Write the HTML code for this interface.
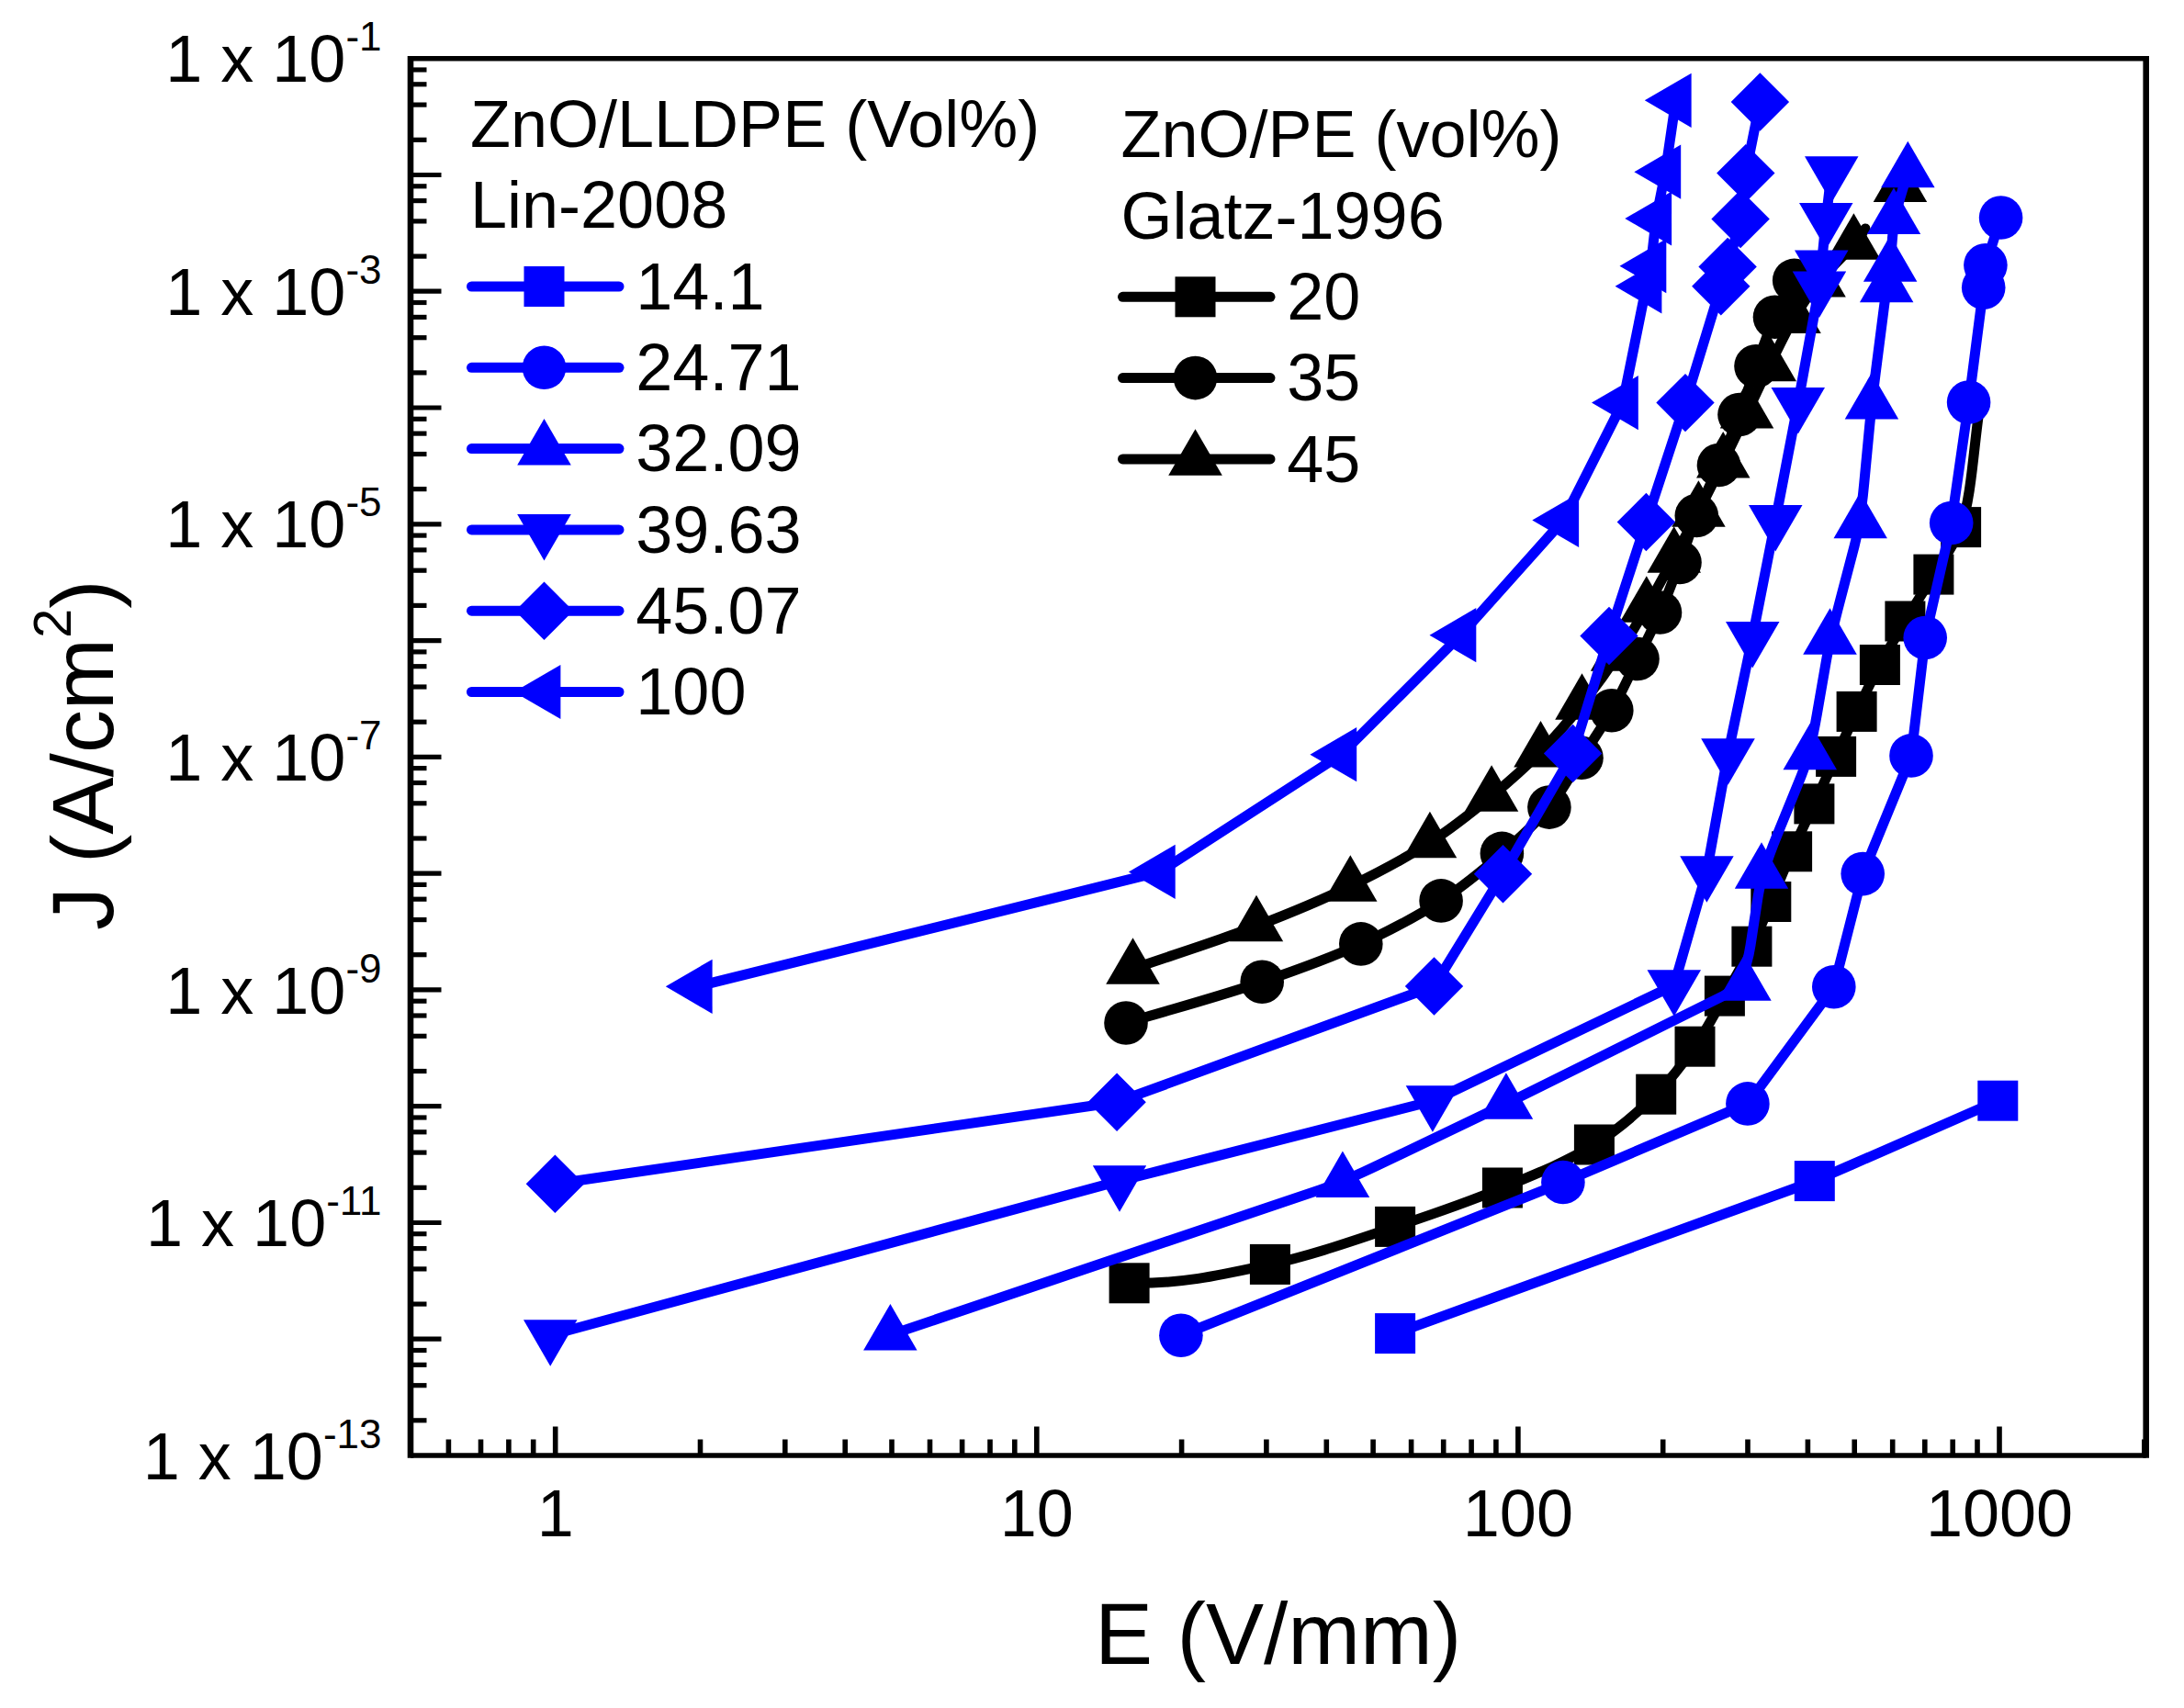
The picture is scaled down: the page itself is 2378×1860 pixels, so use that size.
<!DOCTYPE html>
<html><head><meta charset="utf-8"><title>J-E characteristics</title>
<style>
html,body{margin:0;padding:0;background:#fff;}
svg{display:block;}
text{fill:#000;}
</style></head>
<body>
<svg width="2378" height="1860" viewBox="0 0 2378 1860">
<rect width="2378" height="1860" fill="#fff"/>
<g id="series">
<path d="M1229.6,1397.3 C1289.6,1398.3 1333.7,1387.5 1382.9,1376.9 C1430.1,1366.7 1475.6,1350.3 1519.1,1335.9 C1559.7,1322.4 1598.8,1308.9 1635.9,1293.5 C1670.9,1279 1706.8,1264.8 1735.9,1246.5 C1761.7,1230.3 1784.2,1210.7 1803.2,1191.7 C1819.9,1175 1832.9,1157.8 1845.5,1139.7 C1857.8,1122 1867.5,1102.9 1877.9,1084.6 C1888.1,1066.6 1898.8,1048.4 1907.4,1030.7 C1915.4,1014.2 1921.2,998.7 1928.3,982 C1935.8,964.3 1943.2,945.2 1951.1,927.3 C1958.9,909.7 1967.4,892.7 1975.4,875.4 C1983.4,858.2 1991.3,840.9 1999.1,823.9 C2006.7,807.4 2013.7,791.3 2021.6,774.9 C2029.7,758 2038,740.5 2046.9,724 C2055.6,707.8 2064.9,692.6 2074.4,676.5 C2084.3,659.8 2095.3,642.7 2105.4,625.6 C2115.5,608.5 2127.3,596.2 2135.1,574.1 C2146.9,540.7 2149,484.7 2156,440" fill="none" stroke="#000" stroke-width="11" stroke-linejoin="round" stroke-linecap="round"/>
<rect x="1207.6" y="1375.3" width="44" height="44" fill="#000"/>
<rect x="1360.9" y="1354.9" width="44" height="44" fill="#000"/>
<rect x="1497.1" y="1313.9" width="44" height="44" fill="#000"/>
<rect x="1613.9" y="1271.5" width="44" height="44" fill="#000"/>
<rect x="1713.9" y="1224.5" width="44" height="44" fill="#000"/>
<rect x="1781.2" y="1169.7" width="44" height="44" fill="#000"/>
<rect x="1823.5" y="1117.7" width="44" height="44" fill="#000"/>
<rect x="1855.9" y="1062.6" width="44" height="44" fill="#000"/>
<rect x="1885.4" y="1008.7" width="44" height="44" fill="#000"/>
<rect x="1906.3" y="960" width="44" height="44" fill="#000"/>
<rect x="1929.1" y="905.3" width="44" height="44" fill="#000"/>
<rect x="1953.4" y="853.4" width="44" height="44" fill="#000"/>
<rect x="1977.1" y="801.9" width="44" height="44" fill="#000"/>
<rect x="1999.6" y="752.9" width="44" height="44" fill="#000"/>
<rect x="2024.9" y="702" width="44" height="44" fill="#000"/>
<rect x="2052.4" y="654.5" width="44" height="44" fill="#000"/>
<rect x="2083.4" y="603.6" width="44" height="44" fill="#000"/>
<rect x="2113.1" y="552.1" width="44" height="44" fill="#000"/>
<path d="M1226,1114 C1275.4,1099.1 1329,1084.7 1374.2,1069.2 C1413.2,1055.8 1448.3,1043.3 1481.8,1027.9 C1512.9,1013.6 1542.6,998.1 1569.1,980.9 C1593.4,965.1 1615.1,947.1 1635.4,929.4 C1654.2,913.1 1672.2,897 1686.9,879.1 C1700.8,862.2 1710.5,843 1722,825.2 C1733.2,807.9 1744.7,791.5 1754.8,773.7 C1765.1,755.6 1774,735.8 1783,717.5 C1791.5,700.2 1799.9,684.3 1807.5,667 C1815.3,649.3 1822.3,630.4 1829,612.5 C1835.5,595.3 1840.4,578.7 1847.3,561.5 C1854.5,543.4 1863.7,524.9 1871.5,506.5 C1879.3,488.2 1887.2,469.7 1894,451.5 C1900.6,433.8 1905.6,416.4 1912,398.8 C1918.5,381 1925.1,361.6 1932.5,345.3 C1939.1,330.8 1946.6,318.7 1953.7,305.4" fill="none" stroke="#000" stroke-width="11" stroke-linejoin="round" stroke-linecap="round"/>
<circle cx="1226" cy="1114" r="23.8" fill="#000"/>
<circle cx="1374.2" cy="1069.2" r="23.8" fill="#000"/>
<circle cx="1481.8" cy="1027.9" r="23.8" fill="#000"/>
<circle cx="1569.1" cy="980.9" r="23.8" fill="#000"/>
<circle cx="1635.4" cy="929.4" r="23.8" fill="#000"/>
<circle cx="1686.9" cy="879.1" r="23.8" fill="#000"/>
<circle cx="1722" cy="825.2" r="23.8" fill="#000"/>
<circle cx="1754.8" cy="773.7" r="23.8" fill="#000"/>
<circle cx="1783" cy="717.5" r="23.8" fill="#000"/>
<circle cx="1807.5" cy="667" r="23.8" fill="#000"/>
<circle cx="1829" cy="612.5" r="23.8" fill="#000"/>
<circle cx="1847.3" cy="561.5" r="23.8" fill="#000"/>
<circle cx="1871.5" cy="506.5" r="23.8" fill="#000"/>
<circle cx="1894" cy="451.5" r="23.8" fill="#000"/>
<circle cx="1912" cy="398.8" r="23.8" fill="#000"/>
<circle cx="1932.5" cy="345.3" r="23.8" fill="#000"/>
<circle cx="1953.7" cy="305.4" r="23.8" fill="#000"/>
<path d="M1233.5,1055 C1278.3,1039.5 1326.5,1024.5 1368,1008.5 C1404.7,994.4 1438,980.7 1470.3,965 C1500.8,950.2 1530.4,934.6 1556.9,917.5 C1581.3,901.7 1603.3,884.1 1624.1,867 C1643.3,851.2 1660.9,835.6 1677.5,818.7 C1693.7,802.2 1708.4,784.7 1722.5,767 C1736.2,749.7 1749.1,731.9 1761,714 C1772.5,696.6 1782.5,678.8 1792.8,661 C1803.1,643.2 1813.1,624.7 1822.7,607 C1831.9,590 1840.6,574 1849.4,557 C1858.4,539.5 1867.4,521.5 1876.2,503.6 C1885,485.7 1893.6,467.4 1902.1,449.7 C1910.4,432.4 1918.2,415.5 1926.7,398.4 C1935.3,381 1944,362 1953.5,346.1 C1962,331.8 1970.2,319.7 1980.5,306.8 C1991.6,292.9 2009.4,276.8 2018.4,265.9 C2024,259.2 2026.8,254.6 2031,249" fill="none" stroke="#000" stroke-width="11" stroke-linejoin="round" stroke-linecap="round"/>
<polygon points="1233.5,1021.3 1262.8,1071.8 1204.2,1071.8" fill="#000"/>
<polygon points="1368,974.8 1397.2,1025.3 1338.8,1025.3" fill="#000"/>
<polygon points="1470.3,931.3 1499.5,981.8 1441,981.8" fill="#000"/>
<polygon points="1556.9,883.8 1586.2,934.3 1527.7,934.3" fill="#000"/>
<polygon points="1624.1,833.3 1653.3,883.8 1594.8,883.8" fill="#000"/>
<polygon points="1677.5,785 1706.8,835.5 1648.2,835.5" fill="#000"/>
<polygon points="1722.5,733.3 1751.8,783.8 1693.2,783.8" fill="#000"/>
<polygon points="1761,680.3 1790.2,730.8 1731.8,730.8" fill="#000"/>
<polygon points="1792.8,627.3 1822,677.8 1763.5,677.8" fill="#000"/>
<polygon points="1822.7,573.3 1852,623.8 1793.5,623.8" fill="#000"/>
<polygon points="1849.4,523.3 1878.7,573.8 1820.2,573.8" fill="#000"/>
<polygon points="1876.2,469.9 1905.5,520.4 1847,520.4" fill="#000"/>
<polygon points="1902.1,416 1931.3,466.5 1872.8,466.5" fill="#000"/>
<polygon points="1926.7,364.7 1956,415.2 1897.5,415.2" fill="#000"/>
<polygon points="1953.5,312.4 1982.8,362.9 1924.2,362.9" fill="#000"/>
<polygon points="1980.5,273.1 2009.8,323.6 1951.2,323.6" fill="#000"/>
<polygon points="2018.4,232.2 2047.7,282.7 1989.2,282.7" fill="#000"/>
<polygon points="2068.9,169.6 2098.2,220.1 2039.7,220.1" fill="#000"/>
<path d="M1519.1,1452.1 L1951.4,1295 Q1975.8,1286.1 2016.1,1268.4 L2175.3,1198.7" fill="none" stroke="#0000ff" stroke-width="11" stroke-linejoin="round" stroke-linecap="round"/>
<rect x="1497.1" y="1430.1" width="44" height="44" fill="#0000ff"/>
<rect x="1953.8" y="1264.1" width="44" height="44" fill="#0000ff"/>
<rect x="2153.3" y="1176.7" width="44" height="44" fill="#0000ff"/>
<path d="M1285.9,1454.2 L1701.9,1287.5 L1902.9,1201.9 L1996.8,1074.7 L2028.2,951.6 L2081,822.9 L2096.2,694.5 L2124.7,569.5 L2143.6,438 L2159.7,313.2 L2161.9,288.8 L2178.6,237" fill="none" stroke="#0000ff" stroke-width="11" stroke-linejoin="round" stroke-linecap="round"/>
<circle cx="1285.9" cy="1454.2" r="23.8" fill="#0000ff"/>
<circle cx="1701.9" cy="1287.5" r="23.8" fill="#0000ff"/>
<circle cx="1902.9" cy="1201.9" r="23.8" fill="#0000ff"/>
<circle cx="1996.8" cy="1074.7" r="23.8" fill="#0000ff"/>
<circle cx="2028.2" cy="951.6" r="23.8" fill="#0000ff"/>
<circle cx="2081" cy="822.9" r="23.8" fill="#0000ff"/>
<circle cx="2096.2" cy="694.5" r="23.8" fill="#0000ff"/>
<circle cx="2124.7" cy="569.5" r="23.8" fill="#0000ff"/>
<circle cx="2143.6" cy="438" r="23.8" fill="#0000ff"/>
<circle cx="2159.7" cy="313.2" r="23.8" fill="#0000ff"/>
<circle cx="2161.9" cy="288.8" r="23.8" fill="#0000ff"/>
<circle cx="2178.6" cy="237" r="23.8" fill="#0000ff"/>
<path d="M969.4,1453.6 L1437.3,1295.6 Q1461.9,1287.3 1501.6,1268.3 L1616.5,1213.2 Q1639.9,1202 1679.3,1182.4 L1876.1,1084.6 Q1899.4,1073 1906,1029.5 L1914.1,976.7 Q1918,951 1934.6,910.3 L1961,845.6 Q1970.8,821.5 1978.3,778.1 L1988.1,721.6 Q1992.5,696 2003.7,653.4 L2019.1,594.6 Q2025.7,569.5 2029.8,525.7 L2035.5,465.5 Q2037.9,439.6 2043.5,396 L2050.9,338.3 Q2054.2,312.5 2056,302.4 L2056.4,300.1 Q2058.2,290 2059.9,266.7 L2060.3,261.6 Q2062,238.3 2068.9,215.4 L2077.3,187.4" fill="none" stroke="#0000ff" stroke-width="11" stroke-linejoin="round" stroke-linecap="round"/>
<polygon points="969.4,1419.9 998.6,1470.4 940.1,1470.4" fill="#0000ff"/>
<polygon points="1461.9,1253.6 1491.2,1304.1 1432.7,1304.1" fill="#0000ff"/>
<polygon points="1639.9,1168.3 1669.2,1218.8 1610.7,1218.8" fill="#0000ff"/>
<polygon points="1899.4,1039.3 1928.7,1089.8 1870.2,1089.8" fill="#0000ff"/>
<polygon points="1918,917.3 1947.2,967.8 1888.8,967.8" fill="#0000ff"/>
<polygon points="1970.8,787.8 2000,838.3 1941.5,838.3" fill="#0000ff"/>
<polygon points="1992.5,662.3 2021.8,712.8 1963.2,712.8" fill="#0000ff"/>
<polygon points="2025.7,535.8 2054.9,586.3 1996.5,586.3" fill="#0000ff"/>
<polygon points="2037.9,405.9 2067.2,456.4 2008.7,456.4" fill="#0000ff"/>
<polygon points="2054.2,278.8 2083.4,329.3 2024.9,329.3" fill="#0000ff"/>
<polygon points="2058.2,256.3 2087.4,306.8 2028.9,306.8" fill="#0000ff"/>
<polygon points="2062,204.6 2091.2,255.1 2032.8,255.1" fill="#0000ff"/>
<polygon points="2077.3,153.7 2106.6,204.2 2048.1,204.2" fill="#0000ff"/>
<path d="M599.2,1454 L1219,1286 L1559.9,1199 L1822.8,1073 L1858.4,949 L1881.5,821 L1908.2,693.7 L1933.2,566.8 L1957.8,438.7 L1980.9,312.2 L1983.3,289.3 L1988.3,237.7 L1994.2,187.1" fill="none" stroke="#0000ff" stroke-width="11" stroke-linejoin="round" stroke-linecap="round"/>
<polygon points="599.2,1487.7 628.5,1437.2 570,1437.2" fill="#0000ff"/>
<polygon points="1219,1319.7 1248.2,1269.2 1189.8,1269.2" fill="#0000ff"/>
<polygon points="1559.9,1232.7 1589.2,1182.2 1530.7,1182.2" fill="#0000ff"/>
<polygon points="1822.8,1106.7 1852,1056.2 1793.5,1056.2" fill="#0000ff"/>
<polygon points="1858.4,982.7 1887.7,932.2 1829.2,932.2" fill="#0000ff"/>
<polygon points="1881.5,854.7 1910.8,804.2 1852.2,804.2" fill="#0000ff"/>
<polygon points="1908.2,727.4 1937.5,676.9 1879,676.9" fill="#0000ff"/>
<polygon points="1933.2,600.5 1962.5,550 1904,550" fill="#0000ff"/>
<polygon points="1957.8,472.4 1987,421.9 1928.5,421.9" fill="#0000ff"/>
<polygon points="1980.9,345.9 2010.2,295.4 1951.7,295.4" fill="#0000ff"/>
<polygon points="1983.3,323 2012.5,272.5 1954,272.5" fill="#0000ff"/>
<polygon points="1988.3,271.4 2017.5,220.9 1959,220.9" fill="#0000ff"/>
<polygon points="1994.2,220.8 2023.5,170.3 1965,170.3" fill="#0000ff"/>
<path d="M604.4,1289.2 L1216.1,1200.2 L1561.5,1074 L1636.5,951.7 L1712.6,820.5 L1752,692.5 L1792.4,568.5 L1835,438.6 L1873.8,311.8 L1881.1,290.5 L1895.1,238.5 L1900.8,188.6 L1916.4,111" fill="none" stroke="#0000ff" stroke-width="11" stroke-linejoin="round" stroke-linecap="round"/>
<polygon points="604.4,1257.5 636.1,1289.2 604.4,1320.9 572.7,1289.2" fill="#0000ff"/>
<polygon points="1216.1,1168.5 1247.8,1200.2 1216.1,1231.9 1184.4,1200.2" fill="#0000ff"/>
<polygon points="1561.5,1042.3 1593.2,1074 1561.5,1105.7 1529.8,1074" fill="#0000ff"/>
<polygon points="1636.5,920 1668.2,951.7 1636.5,983.4 1604.8,951.7" fill="#0000ff"/>
<polygon points="1712.6,788.8 1744.3,820.5 1712.6,852.2 1680.9,820.5" fill="#0000ff"/>
<polygon points="1752,660.8 1783.7,692.5 1752,724.2 1720.3,692.5" fill="#0000ff"/>
<polygon points="1792.4,536.8 1824.1,568.5 1792.4,600.2 1760.7,568.5" fill="#0000ff"/>
<polygon points="1835,406.9 1866.7,438.6 1835,470.3 1803.3,438.6" fill="#0000ff"/>
<polygon points="1873.8,280.1 1905.5,311.8 1873.8,343.5 1842.1,311.8" fill="#0000ff"/>
<polygon points="1881.1,258.8 1912.8,290.5 1881.1,322.2 1849.4,290.5" fill="#0000ff"/>
<polygon points="1895.1,206.8 1926.8,238.5 1895.1,270.2 1863.4,238.5" fill="#0000ff"/>
<polygon points="1900.8,156.9 1932.5,188.6 1900.8,220.3 1869.1,188.6" fill="#0000ff"/>
<polygon points="1916.4,79.3 1948.1,111 1916.4,142.7 1884.7,111" fill="#0000ff"/>
<path d="M758.7,1074.3 L1262.8,949.4 L1460.3,821.7 L1590.4,691.7 L1702.2,566.5 L1766.9,438.6 L1792.5,311.8 L1797.4,289.7 L1803.2,238 L1813.3,187.2 L1824.7,109.3" fill="none" stroke="#0000ff" stroke-width="11" stroke-linejoin="round" stroke-linecap="round"/>
<polygon points="724.8,1074.3 775.6,1044.7 775.6,1103.9" fill="#0000ff"/>
<polygon points="1228.9,949.4 1279.7,919.8 1279.7,979" fill="#0000ff"/>
<polygon points="1426.4,821.7 1477.2,792.1 1477.2,851.3" fill="#0000ff"/>
<polygon points="1556.5,691.7 1607.3,662.1 1607.3,721.3" fill="#0000ff"/>
<polygon points="1668.3,566.5 1719.1,536.9 1719.1,596.1" fill="#0000ff"/>
<polygon points="1733,438.6 1783.8,409 1783.8,468.2" fill="#0000ff"/>
<polygon points="1758.6,311.8 1809.4,282.2 1809.4,341.4" fill="#0000ff"/>
<polygon points="1763.5,289.7 1814.3,260.1 1814.3,319.3" fill="#0000ff"/>
<polygon points="1769.3,238 1820.1,208.4 1820.1,267.6" fill="#0000ff"/>
<polygon points="1779.4,187.2 1830.2,157.6 1830.2,216.8" fill="#0000ff"/>
<polygon points="1790.8,109.3 1841.6,79.7 1841.6,138.9" fill="#0000ff"/>
</g>
<g id="axes">
<line x1="447.0" y1="60.95" x2="447.0" y2="1587.75" stroke="#000" stroke-width="6.6"/>
<line x1="2336.7" y1="60.95" x2="2336.7" y2="1587.75" stroke="#000" stroke-width="6.6"/>
<line x1="447.0" y1="63.7" x2="2336.7" y2="63.7" stroke="#000" stroke-width="5.6"/>
<line x1="447.0" y1="1585.0" x2="2336.7" y2="1585.0" stroke="#000" stroke-width="5.6"/>
<line x1="447.0" y1="76" x2="464.5" y2="76" stroke="#000" stroke-width="5.2"/>
<line x1="447.0" y1="91.8" x2="464.5" y2="91.8" stroke="#000" stroke-width="5.2"/>
<line x1="447.0" y1="114.1" x2="464.5" y2="114.1" stroke="#000" stroke-width="5.2"/>
<line x1="447.0" y1="152.3" x2="464.5" y2="152.3" stroke="#000" stroke-width="5.2"/>
<line x1="447.0" y1="190.5" x2="480.5" y2="190.5" stroke="#000" stroke-width="5.2"/>
<line x1="447.0" y1="202.8" x2="464.5" y2="202.8" stroke="#000" stroke-width="5.2"/>
<line x1="447.0" y1="218.6" x2="464.5" y2="218.6" stroke="#000" stroke-width="5.2"/>
<line x1="447.0" y1="240.9" x2="464.5" y2="240.9" stroke="#000" stroke-width="5.2"/>
<line x1="447.0" y1="279.1" x2="464.5" y2="279.1" stroke="#000" stroke-width="5.2"/>
<line x1="447.0" y1="317.2" x2="480.5" y2="317.2" stroke="#000" stroke-width="5.2"/>
<line x1="447.0" y1="329.5" x2="464.5" y2="329.5" stroke="#000" stroke-width="5.2"/>
<line x1="447.0" y1="345.4" x2="464.5" y2="345.4" stroke="#000" stroke-width="5.2"/>
<line x1="447.0" y1="367.7" x2="464.5" y2="367.7" stroke="#000" stroke-width="5.2"/>
<line x1="447.0" y1="405.9" x2="464.5" y2="405.9" stroke="#000" stroke-width="5.2"/>
<line x1="447.0" y1="444" x2="480.5" y2="444" stroke="#000" stroke-width="5.2"/>
<line x1="447.0" y1="456.3" x2="464.5" y2="456.3" stroke="#000" stroke-width="5.2"/>
<line x1="447.0" y1="472.1" x2="464.5" y2="472.1" stroke="#000" stroke-width="5.2"/>
<line x1="447.0" y1="494.5" x2="464.5" y2="494.5" stroke="#000" stroke-width="5.2"/>
<line x1="447.0" y1="532.6" x2="464.5" y2="532.6" stroke="#000" stroke-width="5.2"/>
<line x1="447.0" y1="570.8" x2="480.5" y2="570.8" stroke="#000" stroke-width="5.2"/>
<line x1="447.0" y1="583.1" x2="464.5" y2="583.1" stroke="#000" stroke-width="5.2"/>
<line x1="447.0" y1="598.9" x2="464.5" y2="598.9" stroke="#000" stroke-width="5.2"/>
<line x1="447.0" y1="621.2" x2="464.5" y2="621.2" stroke="#000" stroke-width="5.2"/>
<line x1="447.0" y1="659.4" x2="464.5" y2="659.4" stroke="#000" stroke-width="5.2"/>
<line x1="447.0" y1="697.6" x2="480.5" y2="697.6" stroke="#000" stroke-width="5.2"/>
<line x1="447.0" y1="709.9" x2="464.5" y2="709.9" stroke="#000" stroke-width="5.2"/>
<line x1="447.0" y1="725.7" x2="464.5" y2="725.7" stroke="#000" stroke-width="5.2"/>
<line x1="447.0" y1="748" x2="464.5" y2="748" stroke="#000" stroke-width="5.2"/>
<line x1="447.0" y1="786.2" x2="464.5" y2="786.2" stroke="#000" stroke-width="5.2"/>
<line x1="447.0" y1="824.4" x2="480.5" y2="824.4" stroke="#000" stroke-width="5.2"/>
<line x1="447.0" y1="836.6" x2="464.5" y2="836.6" stroke="#000" stroke-width="5.2"/>
<line x1="447.0" y1="852.5" x2="464.5" y2="852.5" stroke="#000" stroke-width="5.2"/>
<line x1="447.0" y1="874.8" x2="464.5" y2="874.8" stroke="#000" stroke-width="5.2"/>
<line x1="447.0" y1="913" x2="464.5" y2="913" stroke="#000" stroke-width="5.2"/>
<line x1="447.0" y1="951.1" x2="480.5" y2="951.1" stroke="#000" stroke-width="5.2"/>
<line x1="447.0" y1="963.4" x2="464.5" y2="963.4" stroke="#000" stroke-width="5.2"/>
<line x1="447.0" y1="979.2" x2="464.5" y2="979.2" stroke="#000" stroke-width="5.2"/>
<line x1="447.0" y1="1001.6" x2="464.5" y2="1001.6" stroke="#000" stroke-width="5.2"/>
<line x1="447.0" y1="1039.7" x2="464.5" y2="1039.7" stroke="#000" stroke-width="5.2"/>
<line x1="447.0" y1="1077.9" x2="480.5" y2="1077.9" stroke="#000" stroke-width="5.2"/>
<line x1="447.0" y1="1090.2" x2="464.5" y2="1090.2" stroke="#000" stroke-width="5.2"/>
<line x1="447.0" y1="1106" x2="464.5" y2="1106" stroke="#000" stroke-width="5.2"/>
<line x1="447.0" y1="1128.3" x2="464.5" y2="1128.3" stroke="#000" stroke-width="5.2"/>
<line x1="447.0" y1="1166.5" x2="464.5" y2="1166.5" stroke="#000" stroke-width="5.2"/>
<line x1="447.0" y1="1204.7" x2="480.5" y2="1204.7" stroke="#000" stroke-width="5.2"/>
<line x1="447.0" y1="1217" x2="464.5" y2="1217" stroke="#000" stroke-width="5.2"/>
<line x1="447.0" y1="1232.8" x2="464.5" y2="1232.8" stroke="#000" stroke-width="5.2"/>
<line x1="447.0" y1="1255.1" x2="464.5" y2="1255.1" stroke="#000" stroke-width="5.2"/>
<line x1="447.0" y1="1293.3" x2="464.5" y2="1293.3" stroke="#000" stroke-width="5.2"/>
<line x1="447.0" y1="1331.5" x2="480.5" y2="1331.5" stroke="#000" stroke-width="5.2"/>
<line x1="447.0" y1="1343.7" x2="464.5" y2="1343.7" stroke="#000" stroke-width="5.2"/>
<line x1="447.0" y1="1359.6" x2="464.5" y2="1359.6" stroke="#000" stroke-width="5.2"/>
<line x1="447.0" y1="1381.9" x2="464.5" y2="1381.9" stroke="#000" stroke-width="5.2"/>
<line x1="447.0" y1="1420.1" x2="464.5" y2="1420.1" stroke="#000" stroke-width="5.2"/>
<line x1="447.0" y1="1458.2" x2="480.5" y2="1458.2" stroke="#000" stroke-width="5.2"/>
<line x1="447.0" y1="1470.5" x2="464.5" y2="1470.5" stroke="#000" stroke-width="5.2"/>
<line x1="447.0" y1="1486.3" x2="464.5" y2="1486.3" stroke="#000" stroke-width="5.2"/>
<line x1="447.0" y1="1508.7" x2="464.5" y2="1508.7" stroke="#000" stroke-width="5.2"/>
<line x1="447.0" y1="1546.8" x2="464.5" y2="1546.8" stroke="#000" stroke-width="5.2"/>
<line x1="488.4" y1="1585.0" x2="488.4" y2="1567.5" stroke="#000" stroke-width="5.6000000000000005"/>
<line x1="523.5" y1="1585.0" x2="523.5" y2="1567.5" stroke="#000" stroke-width="5.6000000000000005"/>
<line x1="553.9" y1="1585.0" x2="553.9" y2="1567.5" stroke="#000" stroke-width="5.6000000000000005"/>
<line x1="580.7" y1="1585.0" x2="580.7" y2="1567.5" stroke="#000" stroke-width="5.6000000000000005"/>
<line x1="604.7" y1="1585.0" x2="604.7" y2="1553.5" stroke="#000" stroke-width="5.6000000000000005"/>
<line x1="762.5" y1="1585.0" x2="762.5" y2="1567.5" stroke="#000" stroke-width="5.6000000000000005"/>
<line x1="854.8" y1="1585.0" x2="854.8" y2="1567.5" stroke="#000" stroke-width="5.6000000000000005"/>
<line x1="920.2" y1="1585.0" x2="920.2" y2="1567.5" stroke="#000" stroke-width="5.6000000000000005"/>
<line x1="971" y1="1585.0" x2="971" y2="1567.5" stroke="#000" stroke-width="5.6000000000000005"/>
<line x1="1012.5" y1="1585.0" x2="1012.5" y2="1567.5" stroke="#000" stroke-width="5.6000000000000005"/>
<line x1="1047.6" y1="1585.0" x2="1047.6" y2="1567.5" stroke="#000" stroke-width="5.6000000000000005"/>
<line x1="1078" y1="1585.0" x2="1078" y2="1567.5" stroke="#000" stroke-width="5.6000000000000005"/>
<line x1="1104.8" y1="1585.0" x2="1104.8" y2="1567.5" stroke="#000" stroke-width="5.6000000000000005"/>
<line x1="1128.8" y1="1585.0" x2="1128.8" y2="1553.5" stroke="#000" stroke-width="5.6000000000000005"/>
<line x1="1286.6" y1="1585.0" x2="1286.6" y2="1567.5" stroke="#000" stroke-width="5.6000000000000005"/>
<line x1="1378.9" y1="1585.0" x2="1378.9" y2="1567.5" stroke="#000" stroke-width="5.6000000000000005"/>
<line x1="1444.3" y1="1585.0" x2="1444.3" y2="1567.5" stroke="#000" stroke-width="5.6000000000000005"/>
<line x1="1495.1" y1="1585.0" x2="1495.1" y2="1567.5" stroke="#000" stroke-width="5.6000000000000005"/>
<line x1="1536.6" y1="1585.0" x2="1536.6" y2="1567.5" stroke="#000" stroke-width="5.6000000000000005"/>
<line x1="1571.7" y1="1585.0" x2="1571.7" y2="1567.5" stroke="#000" stroke-width="5.6000000000000005"/>
<line x1="1602.1" y1="1585.0" x2="1602.1" y2="1567.5" stroke="#000" stroke-width="5.6000000000000005"/>
<line x1="1628.9" y1="1585.0" x2="1628.9" y2="1567.5" stroke="#000" stroke-width="5.6000000000000005"/>
<line x1="1652.9" y1="1585.0" x2="1652.9" y2="1553.5" stroke="#000" stroke-width="5.6000000000000005"/>
<line x1="1810.7" y1="1585.0" x2="1810.7" y2="1567.5" stroke="#000" stroke-width="5.6000000000000005"/>
<line x1="1903" y1="1585.0" x2="1903" y2="1567.5" stroke="#000" stroke-width="5.6000000000000005"/>
<line x1="1968.4" y1="1585.0" x2="1968.4" y2="1567.5" stroke="#000" stroke-width="5.6000000000000005"/>
<line x1="2019.2" y1="1585.0" x2="2019.2" y2="1567.5" stroke="#000" stroke-width="5.6000000000000005"/>
<line x1="2060.7" y1="1585.0" x2="2060.7" y2="1567.5" stroke="#000" stroke-width="5.6000000000000005"/>
<line x1="2095.8" y1="1585.0" x2="2095.8" y2="1567.5" stroke="#000" stroke-width="5.6000000000000005"/>
<line x1="2126.2" y1="1585.0" x2="2126.2" y2="1567.5" stroke="#000" stroke-width="5.6000000000000005"/>
<line x1="2153" y1="1585.0" x2="2153" y2="1567.5" stroke="#000" stroke-width="5.6000000000000005"/>
<line x1="2177" y1="1585.0" x2="2177" y2="1553.5" stroke="#000" stroke-width="5.6000000000000005"/>
<line x1="2334.8" y1="1585.0" x2="2334.8" y2="1567.5" stroke="#000" stroke-width="5.6000000000000005"/>
</g>
<g id="labels">
<text x="415.5" y="89.3" text-anchor="end" font-size="72" font-family="Liberation Sans, sans-serif">1 x 10<tspan font-size="44" dy="-34">-1</tspan></text>
<text x="415.5" y="342.9" text-anchor="end" font-size="72" font-family="Liberation Sans, sans-serif">1 x 10<tspan font-size="44" dy="-34">-3</tspan></text>
<text x="415.5" y="596.4" text-anchor="end" font-size="72" font-family="Liberation Sans, sans-serif">1 x 10<tspan font-size="44" dy="-34">-5</tspan></text>
<text x="415.5" y="850" text-anchor="end" font-size="72" font-family="Liberation Sans, sans-serif">1 x 10<tspan font-size="44" dy="-34">-7</tspan></text>
<text x="415.5" y="1103.5" text-anchor="end" font-size="72" font-family="Liberation Sans, sans-serif">1 x 10<tspan font-size="44" dy="-34">-9</tspan></text>
<text x="415.5" y="1357" text-anchor="end" font-size="72" font-family="Liberation Sans, sans-serif">1 x 10<tspan font-size="44" dy="-34">-11</tspan></text>
<text x="415.5" y="1610.6" text-anchor="end" font-size="72" font-family="Liberation Sans, sans-serif">1 x 10<tspan font-size="44" dy="-34">-13</tspan></text>
<text x="604.7" y="1672.5" text-anchor="middle" font-size="72" font-family="Liberation Sans, sans-serif">1</text>
<text x="1128.8" y="1672.5" text-anchor="middle" font-size="72" font-family="Liberation Sans, sans-serif">10</text>
<text x="1652.9" y="1672.5" text-anchor="middle" font-size="72" font-family="Liberation Sans, sans-serif">100</text>
<text x="2177" y="1672.5" text-anchor="middle" font-size="72" font-family="Liberation Sans, sans-serif">1000</text>
<text x="1391.7" y="1812.3" text-anchor="middle" font-size="94.6" font-family="Liberation Sans, sans-serif">E (V/mm)</text>
<text transform="translate(122.5,822.2) rotate(-90)" text-anchor="middle" font-size="93.8" font-family="Liberation Sans, sans-serif">J (A/cm<tspan font-size="58" dy="-46">2</tspan><tspan dy="46">)</tspan></text>
</g>
<g id="legend">
<text x="512" y="160.1" font-size="72" font-family="Liberation Sans, sans-serif">ZnO/LLDPE (Vol%)</text>
<text x="512" y="248.3" font-size="72" font-family="Liberation Sans, sans-serif">Lin-2008</text>
<line x1="513.5" y1="312" x2="674" y2="312" stroke="#0000ff" stroke-width="11.0" stroke-linecap="round"/>
<rect x="570.5" y="290" width="44" height="44" fill="#0000ff"/>
<text x="692.3" y="336.6" font-size="72" font-family="Liberation Sans, sans-serif">14.1</text>
<line x1="513.5" y1="400.3" x2="674" y2="400.3" stroke="#0000ff" stroke-width="11.0" stroke-linecap="round"/>
<circle cx="592.5" cy="400.3" r="23.8" fill="#0000ff"/>
<text x="692.3" y="424.9" font-size="72" font-family="Liberation Sans, sans-serif">24.71</text>
<line x1="513.5" y1="488.6" x2="674" y2="488.6" stroke="#0000ff" stroke-width="11.0" stroke-linecap="round"/>
<polygon points="592.5,455.9 621.8,506.4 563.2,506.4" fill="#0000ff"/>
<text x="692.3" y="513.2" font-size="72" font-family="Liberation Sans, sans-serif">32.09</text>
<line x1="513.5" y1="576.9" x2="674" y2="576.9" stroke="#0000ff" stroke-width="11.0" stroke-linecap="round"/>
<polygon points="592.5,610.6 621.8,560.1 563.2,560.1" fill="#0000ff"/>
<text x="692.3" y="601.5" font-size="72" font-family="Liberation Sans, sans-serif">39.63</text>
<line x1="513.5" y1="665.2" x2="674" y2="665.2" stroke="#0000ff" stroke-width="11.0" stroke-linecap="round"/>
<polygon points="592.5,633.5 624.2,665.2 592.5,696.9 560.8,665.2" fill="#0000ff"/>
<text x="692.3" y="689.8" font-size="72" font-family="Liberation Sans, sans-serif">45.07</text>
<line x1="513.5" y1="753.5" x2="674" y2="753.5" stroke="#0000ff" stroke-width="11.0" stroke-linecap="round"/>
<polygon points="559.6,753.5 610.4,723.9 610.4,783.1" fill="#0000ff"/>
<text x="692.3" y="778.1" font-size="72" font-family="Liberation Sans, sans-serif">100</text>
<text x="1220.5" y="171.3" font-size="72" font-family="Liberation Sans, sans-serif">ZnO/PE (vol%)</text>
<text x="1220.5" y="259.5" font-size="72" font-family="Liberation Sans, sans-serif">Glatz-1996</text>
<line x1="1222.5" y1="323.3" x2="1383" y2="323.3" stroke="#000" stroke-width="11.0" stroke-linecap="round"/>
<rect x="1279.5" y="301.3" width="44" height="44" fill="#000"/>
<text x="1401.3" y="347.9" font-size="72" font-family="Liberation Sans, sans-serif">20</text>
<line x1="1222.5" y1="411.6" x2="1383" y2="411.6" stroke="#000" stroke-width="11.0" stroke-linecap="round"/>
<circle cx="1301.5" cy="411.6" r="23.8" fill="#000"/>
<text x="1401.3" y="436.2" font-size="72" font-family="Liberation Sans, sans-serif">35</text>
<line x1="1222.5" y1="499.9" x2="1383" y2="499.9" stroke="#000" stroke-width="11.0" stroke-linecap="round"/>
<polygon points="1301.5,467.2 1330.8,517.7 1272.2,517.7" fill="#000"/>
<text x="1401.3" y="524.5" font-size="72" font-family="Liberation Sans, sans-serif">45</text>
</g>
</svg>
</body></html>
